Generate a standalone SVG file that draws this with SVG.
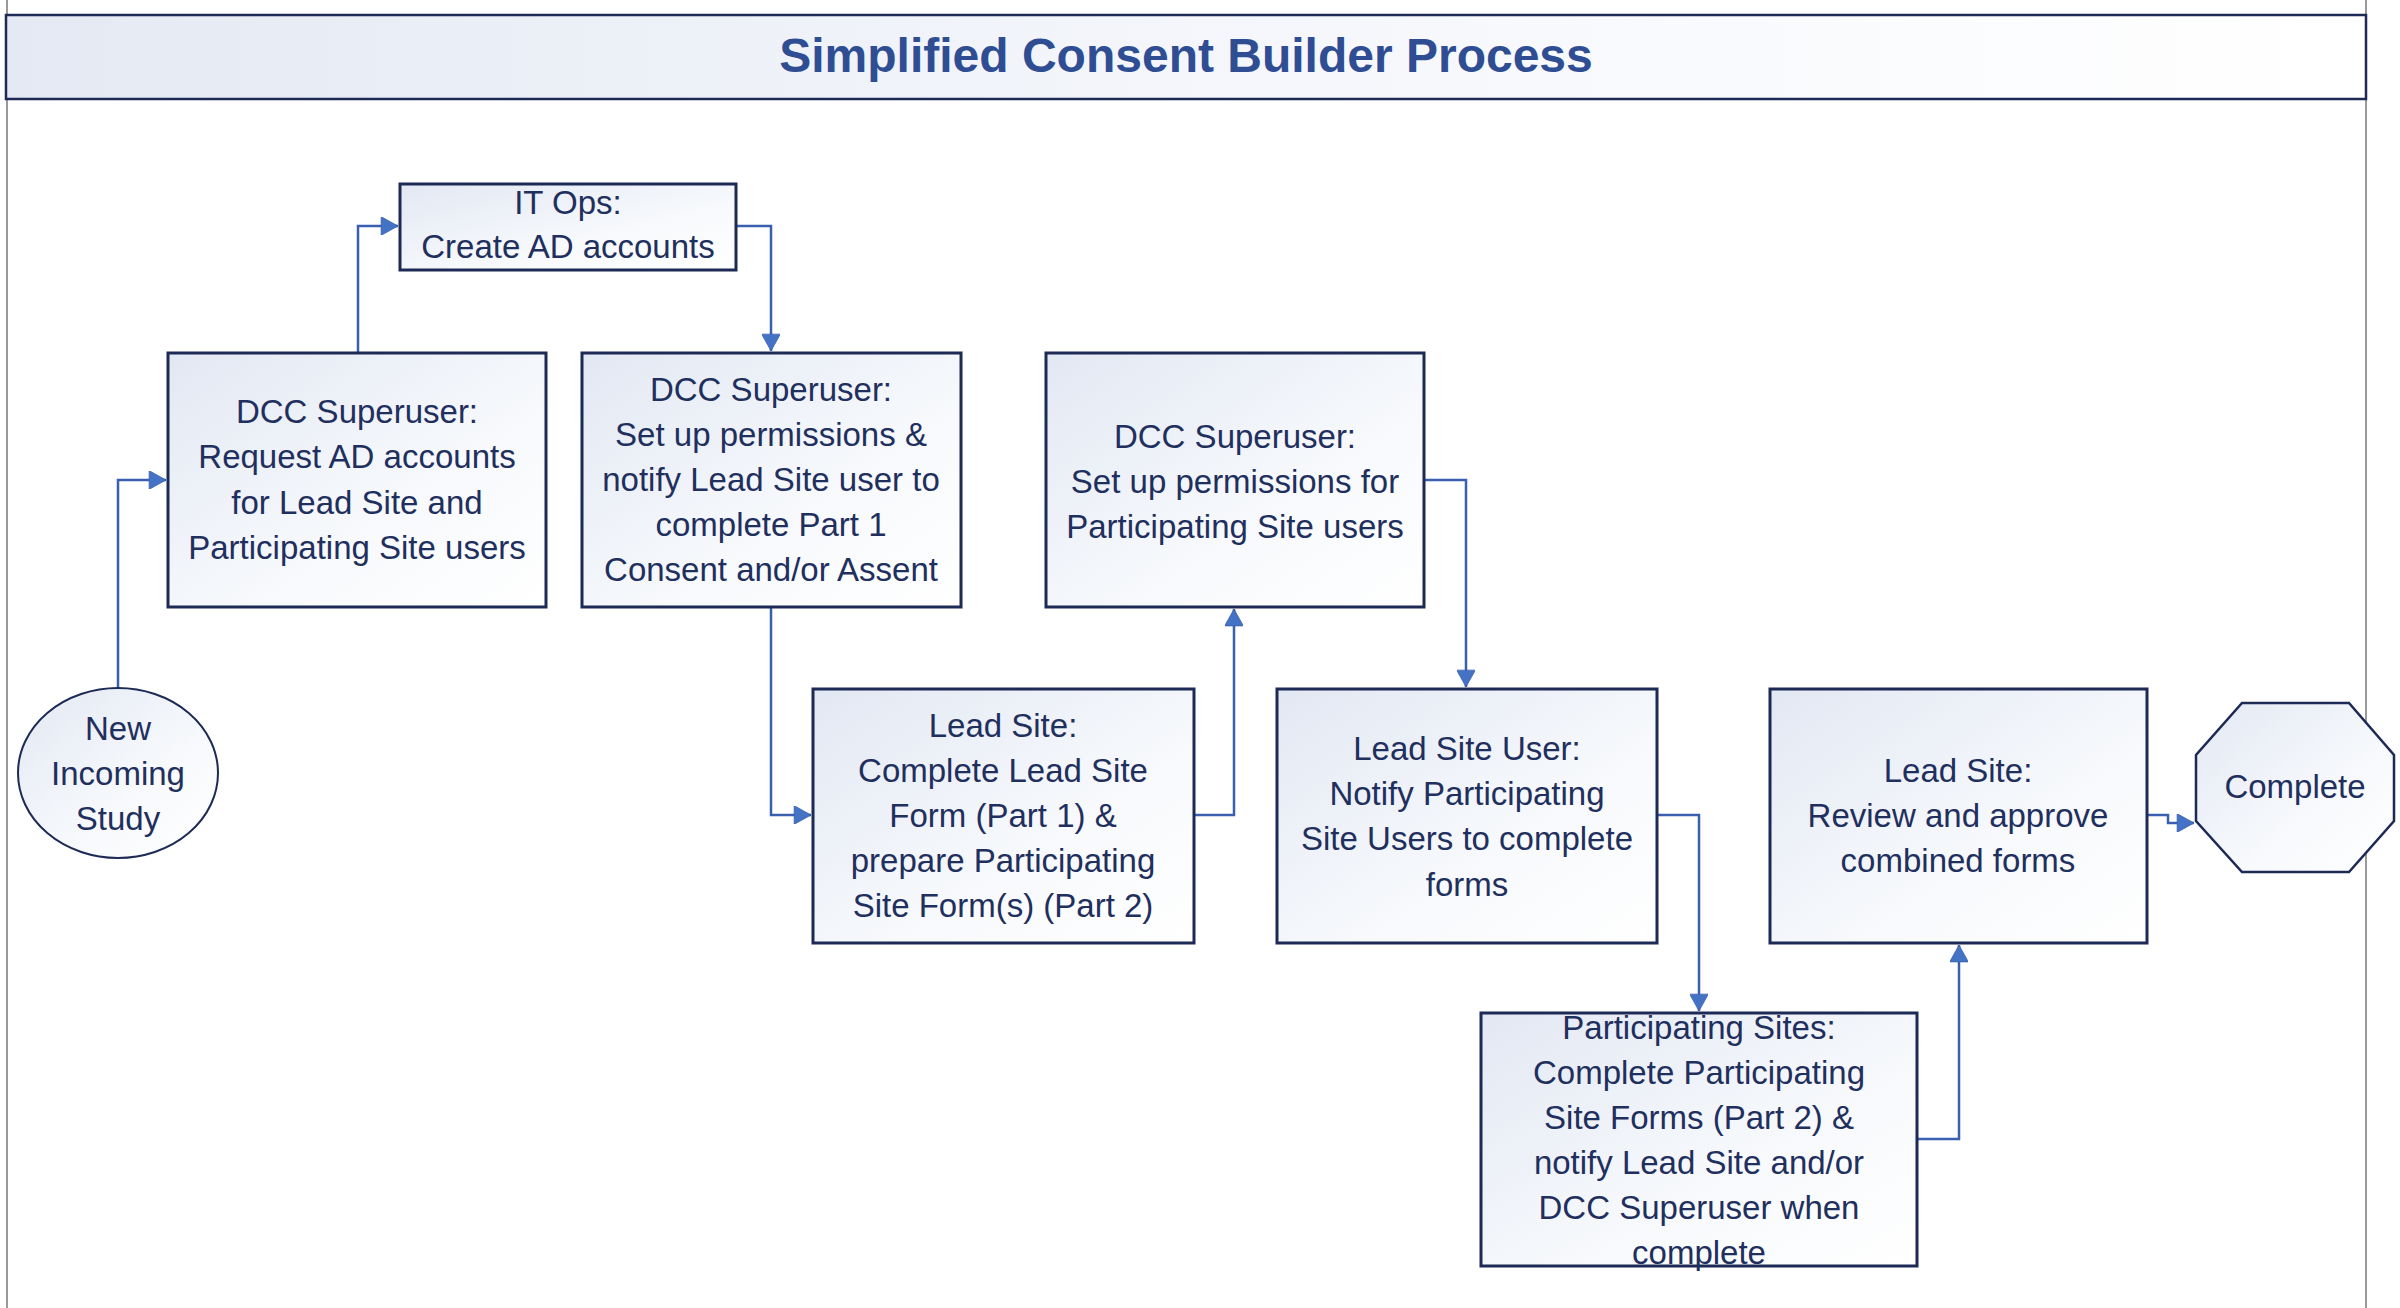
<svg xmlns="http://www.w3.org/2000/svg" width="2400" height="1308" viewBox="0 0 2400 1308">
<style>
.box{fill:url(#g);stroke:#1c2a55;stroke-width:3}
.t{font-family:"Liberation Sans",Arial,sans-serif;font-size:33px;fill:#1f2f5e;text-anchor:middle}
.title{font-family:"Liberation Sans",Arial,sans-serif;font-size:48px;font-weight:bold;fill:#2f4d93;text-anchor:middle}
.c{fill:none;stroke:#3a5fae;stroke-width:2.5}
</style>
<defs>
<linearGradient id="g" x1="0" y1="0" x2="1" y2="1">
<stop offset="0" stop-color="#e2e8f3"/>
<stop offset="0.6" stop-color="#f7f9fc"/>
<stop offset="1" stop-color="#ffffff"/>
</linearGradient>
<linearGradient id="tg" x1="0" y1="0" x2="1" y2="0">
<stop offset="0" stop-color="#e4e9f3"/>
<stop offset="0.5" stop-color="#f4f6fb"/>
<stop offset="1" stop-color="#ffffff"/>
</linearGradient>
<marker id="a" viewBox="0 0 10 10" refX="10" refY="5" markerWidth="7.5" markerHeight="7.5" markerUnits="strokeWidth" orient="auto">
<path d="M1,0 L10,5 L1,10 z" fill="#4472c4" stroke="#3a5fae" stroke-width="0.4"/>
</marker>
</defs>
<rect width="2400" height="1308" fill="#ffffff"/>
<g id="frame">
<line x1="7" y1="0" x2="7" y2="1308" stroke="#9a9a9a" stroke-width="2"/>
<line x1="2366" y1="0" x2="2366" y2="1308" stroke="#9a9a9a" stroke-width="2"/>
</g>
<g id="title">
<rect x="6" y="15" width="2360" height="84" fill="url(#tg)" stroke="#1c2a55" stroke-width="2.5"/>
<text class="title" x="1186" y="72">Simplified Consent Builder Process</text>
</g>
<g id="connectors">
<path class="c" d="M118,689 V480 H166" marker-end="url(#a)"/>
<path class="c" d="M358,353 V226 H398" marker-end="url(#a)"/>
<path class="c" d="M736,226 H771 V351" marker-end="url(#a)"/>
<path class="c" d="M771,607 V815 H811" marker-end="url(#a)"/>
<path class="c" d="M1194,815 H1234 V609" marker-end="url(#a)"/>
<path class="c" d="M1424,480 H1466 V687" marker-end="url(#a)"/>
<path class="c" d="M1657,815 H1699 V1011" marker-end="url(#a)"/>
<path class="c" d="M1917,1139 H1959 V945" marker-end="url(#a)"/>
<path class="c" d="M2147,815 H2168 V823 H2194" marker-end="url(#a)"/>
</g>
<g id="start">
<ellipse cx="118" cy="773" rx="100" ry="85" fill="url(#g)" stroke="#1c2a55" stroke-width="2"/>
<text class="t" x="118" y="740">New</text>
<text class="t" x="118" y="785">Incoming</text>
<text class="t" x="118" y="830">Study</text>
</g>
<g id="itops">
<rect class="box" x="400" y="184" width="336" height="86"/>
<text class="t" x="568" y="214">IT Ops:</text>
<text class="t" x="568" y="258">Create AD accounts</text>
</g>
<g id="request">
<rect class="box" x="168" y="353" width="378" height="254"/>
<text class="t" x="357" y="423">DCC Superuser:</text>
<text class="t" x="357" y="468">Request AD accounts</text>
<text class="t" x="357" y="514">for Lead Site and</text>
<text class="t" x="357" y="559">Participating Site users</text>
</g>
<g id="setup1">
<rect class="box" x="582" y="353" width="379" height="254"/>
<text class="t" x="771" y="401">DCC Superuser:</text>
<text class="t" x="771" y="446">Set up permissions &amp;</text>
<text class="t" x="771" y="491">notify Lead Site user to</text>
<text class="t" x="771" y="536">complete Part 1</text>
<text class="t" x="771" y="581">Consent and/or Assent</text>
</g>
<g id="setup2">
<rect class="box" x="1046" y="353" width="378" height="254"/>
<text class="t" x="1235" y="448">DCC Superuser:</text>
<text class="t" x="1235" y="493">Set up permissions for</text>
<text class="t" x="1235" y="538">Participating Site users</text>
</g>
<g id="leadform">
<rect class="box" x="813" y="689" width="381" height="254"/>
<text class="t" x="1003" y="737">Lead Site:</text>
<text class="t" x="1003" y="782">Complete Lead Site</text>
<text class="t" x="1003" y="827">Form (Part 1) &amp;</text>
<text class="t" x="1003" y="872">prepare Participating</text>
<text class="t" x="1003" y="917">Site Form(s) (Part 2)</text>
</g>
<g id="notify">
<rect class="box" x="1277" y="689" width="380" height="254"/>
<text class="t" x="1467" y="760">Lead Site User:</text>
<text class="t" x="1467" y="805">Notify Participating</text>
<text class="t" x="1467" y="850">Site Users to complete</text>
<text class="t" x="1467" y="896">forms</text>
</g>
<g id="review">
<rect class="box" x="1770" y="689" width="377" height="254"/>
<text class="t" x="1958" y="782">Lead Site:</text>
<text class="t" x="1958" y="827">Review and approve</text>
<text class="t" x="1958" y="872">combined forms</text>
</g>
<g id="participating">
<rect class="box" x="1481" y="1013" width="436" height="253"/>
<text class="t" x="1699" y="1039">Participating Sites:</text>
<text class="t" x="1699" y="1084">Complete Participating</text>
<text class="t" x="1699" y="1129">Site Forms (Part 2) &amp;</text>
<text class="t" x="1699" y="1174">notify Lead Site and/or</text>
<text class="t" x="1699" y="1219">DCC Superuser when</text>
<text class="t" x="1699" y="1264">complete</text>
</g>
<g id="complete">
<polygon points="2242,703 2349,703 2394,755 2394,821 2349,872 2242,872 2196,821 2196,755" fill="url(#g)" stroke="#1c2a55" stroke-width="2.5"/>
<text class="t" x="2295" y="798">Complete</text>
</g>
</svg>
